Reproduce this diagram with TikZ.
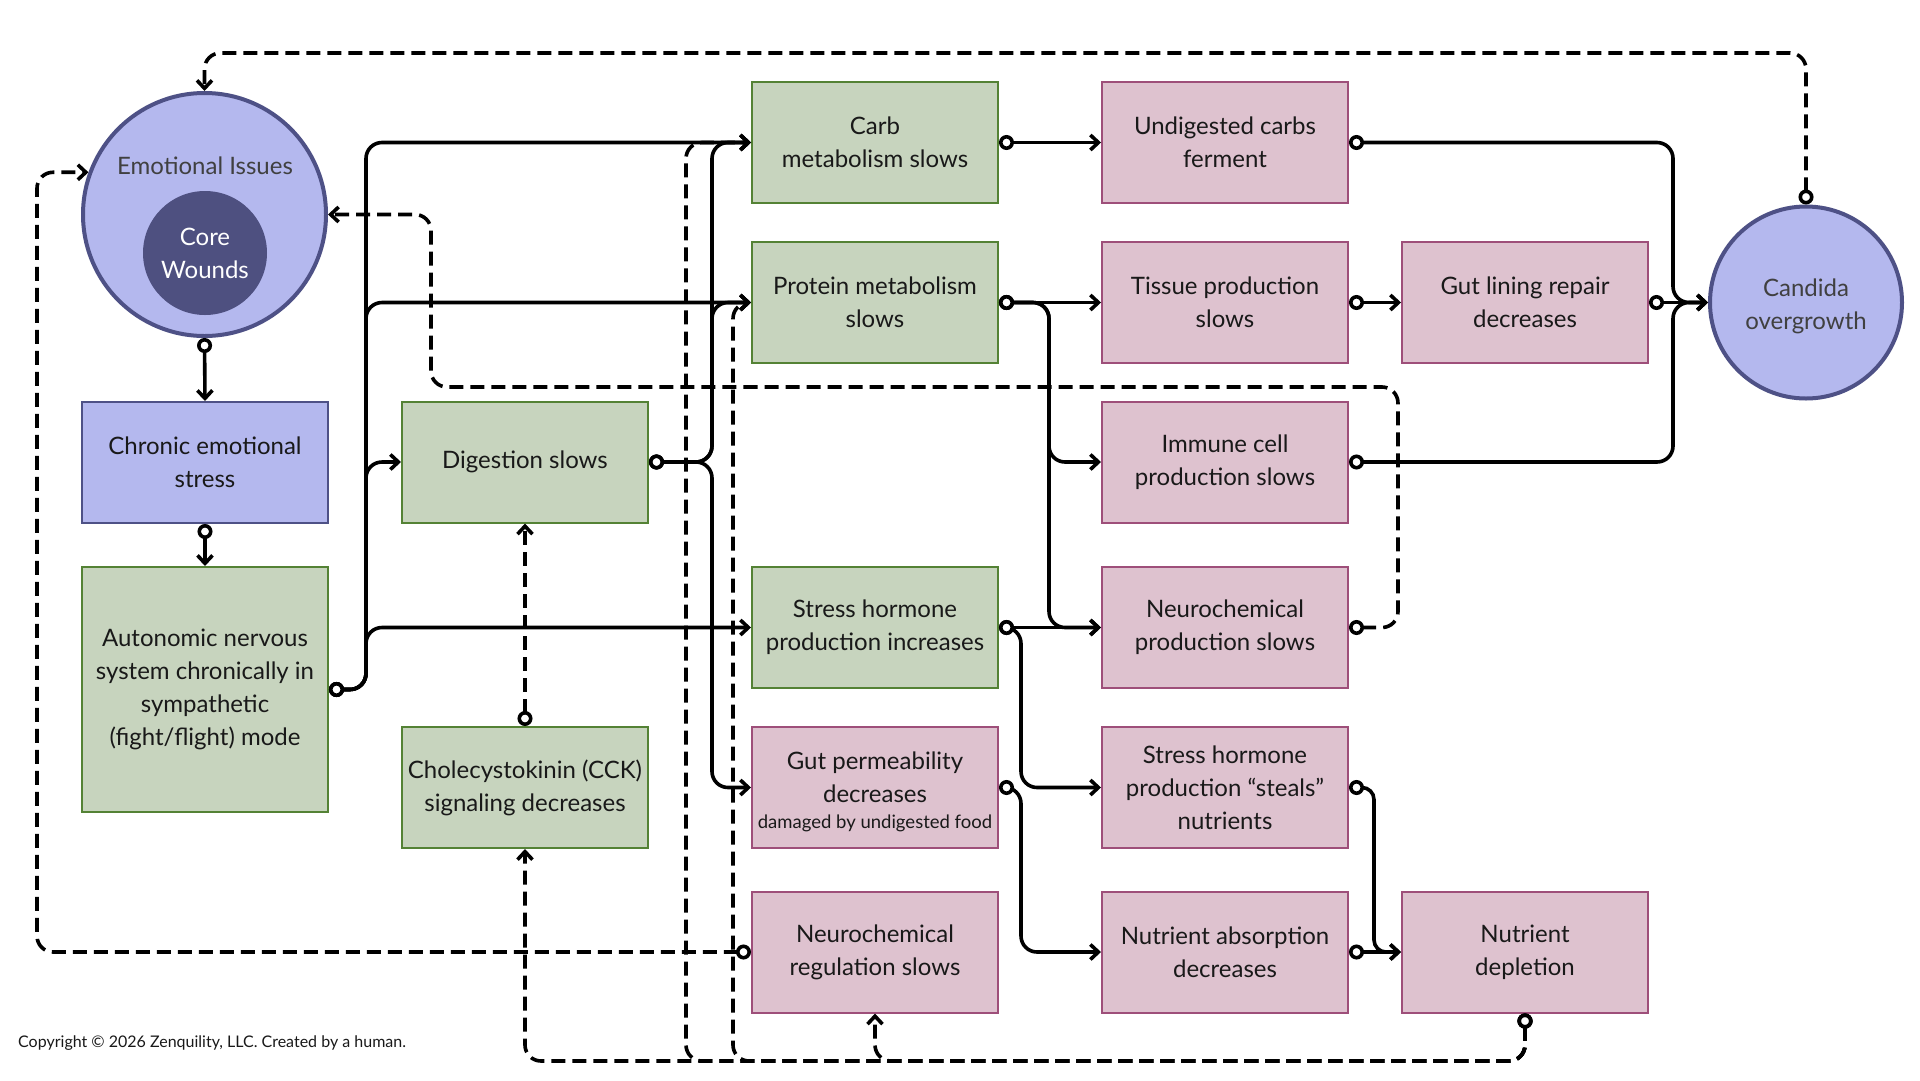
\documentclass[tikz,border=0pt]{standalone}
\usepackage{fontspec}
\setmainfont{Lato}
\usetikzlibrary{arrows.meta,calc}
\definecolor{gfill}{HTML}{C7D4BE}
\definecolor{gdraw}{HTML}{548235}
\definecolor{pfill}{HTML}{DEC2CF}
\definecolor{pdraw}{HTML}{9E4F7A}
\definecolor{bfill}{HTML}{B4B8EE}
\definecolor{bdraw}{HTML}{4E5186}
\definecolor{corefill}{HTML}{4E5080}
\definecolor{txtgrey}{HTML}{404040}
\begin{document}
\begin{tikzpicture}[x=1pt,y=-1pt,
  boxbase/.style={rectangle, minimum width=246pt, minimum height=121pt, inner sep=0pt, line width=2pt, align=center, text=black!90, font=\fontsize{24}{33}\selectfont},
  boxG/.style={boxbase, fill=gfill, draw=gdraw},
  boxP/.style={boxbase, fill=pfill, draw=pdraw},
  boxB/.style={boxbase, fill=bfill, draw=bdraw},
  bigcirc/.style={circle, fill=bfill, draw=bdraw, line width=4pt, inner sep=0pt, align=center, text=txtgrey, font=\fontsize{24}{33}\selectfont},
  conn/.style={line width=3.6pt, rounded corners=16pt, {Circle[fill=white,length=15pt]}-{Straight Barb[length=8pt,width=15pt]}},
  dconn/.style={conn, dash pattern=on 14pt off 7pt},
]
\useasboundingbox (0,0) rectangle (1920,1080);
\fill[white] (0,0) rectangle (1920,1080);

% round nodes
\node[bigcirc, minimum size=243pt] (ei) at (204.5,214.5) {};
\node[text=txtgrey, font=\fontsize{24}{33}\selectfont] (eitxt) at (205,166) {Emotional Issues};
\node[circle, fill=corefill, minimum size=124pt, inner sep=0pt, text=white, align=center, font=\fontsize{24}{33}\selectfont] (core) at (205,253) {Core\\Wounds};
\node[bigcirc, minimum size=192pt] (cand) at (1806,302.5) {\rule{0pt}{26pt}Candida\\overgrowth};

% boxes
\node[boxB] (ces) at (205,462.5) {Chronic emotional\\stress};
\node[boxG, minimum height=245pt] (auto) at (205,689.5) {Autonomic nervous\\system chronically in\\sympathetic\\(fight/flight) mode};
\node[boxG] (dig) at (525,462) {Digestion slows};
\node[boxG] (cck) at (525,787.5) {Cholecystokinin (CCK)\\signaling decreases};
\node[boxG] (carb) at (875,142.5) {Carb\\metabolism slows};
\node[boxG] (prot) at (875,302.5) {Protein metabolism\\slows};
\node[boxG] (shi) at (875,627.5) {Stress hormone\\production increases};
\node[boxP] (gp) at (875,787.5) {\rule{0pt}{26pt}Gut permeability\\decreases\\[-7pt]{\fontsize{18.5}{22}\selectfont damaged by undigested food}};
\node[boxP] (nrs) at (875,952) {Neurochemical\\regulation slows};
\node[boxP] (und) at (1225,142.5) {Undigested carbs\\ferment};
\node[boxP] (tis) at (1225,302.5) {Tissue production\\slows};
\node[boxP] (imm) at (1225,462) {Immune cell\\production slows};
\node[boxP] (nps) at (1225,627.5) {Neurochemical\\production slows};
\node[boxP] (steal) at (1225,787.5) {Stress hormone\\production “steals”\\nutrients};
\node[boxP] (nab) at (1225,952) {Nutrient absorption\\decreases};
\node[boxP] (gl) at (1525,302.5) {Gut lining repair\\decreases};
\node[boxP] (dep) at (1525,952) {Nutrient\\depletion};

\node[anchor=west, text=black!90, font=\fontsize{16}{19}\selectfont, inner sep=0pt] (copy) at (18,1043) {Copyright © 2026 Zenquility, LLC. Created by a human.};

% helper coordinates
\coordinate (xa) at (366,0);
\coordinate (xd) at (712,0);
\coordinate (xp) at (1049,0);
\coordinate (xs) at (1021,0);
\coordinate (xn) at (1374,0);
\coordinate (xc) at (1673,0);
\coordinate (xq) at (1398,0);
\coordinate (xr) at (431,0);
\coordinate (xl) at (37,0);
\coordinate (xcb) at (686,0);
\coordinate (xpb) at (733,0);
\coordinate (yt) at (0,53);
\coordinate (yd) at (0,387);
\coordinate (yb) at (0,1061);

% solid connectors
\draw[conn] (ei.south) -- (ces.north);
\draw[conn] (ces.south) -- (auto.north);
\draw[conn] (auto.east) -| (xa |- carb.west) -- (carb.west);
\draw[conn] (auto.east) -| (xa |- prot.west) -- (prot.west);
\draw[conn] (auto.east) -| (xa |- dig.west) -- (dig.west);
\draw[conn] (auto.east) -| (xa |- shi.west) -- (shi.west);
\draw[conn] (dig.east) -| (xd |- carb.west) -- (carb.west);
\draw[conn] (dig.east) -| (xd |- prot.west) -- (prot.west);
\draw[conn] (dig.east) -| (xd |- gp.west) -- (gp.west);
\draw[conn] (carb.east) -- (und.west);
\draw[conn] (prot.east) -- (tis.west);
\draw[conn] (prot.east) -| (xp |- imm.west) -- (imm.west);
\draw[conn] (prot.east) -| (xp |- nps.west) -- (nps.west);
\draw[conn] (shi.east) -- (nps.west);
\draw[conn] (shi.east) -| (xs |- steal.west) -- (steal.west);
\draw[conn] (gp.east) -| (xs |- nab.west) -- (nab.west);
\draw[conn, rounded corners=12pt] (steal.east) -| (xn |- dep.west) -- (dep.west);
\draw[conn] (nab.east) -- (dep.west);
\draw[conn] (tis.east) -- (gl.west);
\draw[conn] (gl.east) -- (cand.west);
\draw[conn] (und.east) -| (xc |- cand.west) -- (cand.west);
\draw[conn] (imm.east) -| (xc |- cand.west) -- (cand.west);

% dashed connectors
\draw[dconn] (cand.north) -- (cand.north |- yt) -| (ei.north);
\draw[dconn] (nps.east) -| (xq |- yd) -| (xr |- ei.east) -- (ei.east);
\draw[dconn] (nrs.west) -| (xl |- ei.160) -- (ei.160);
\draw[dconn] (dep.south) -- (dep.south |- yb) -| (nrs.south);
\draw[dconn] (dep.south) -- (dep.south |- yb) -| (cck.south);
\draw[dconn] (dep.south) -- (dep.south |- yb) -| (xcb |- carb.west) -- (carb.west);
\draw[dconn] (dep.south) -- (dep.south |- yb) -| (xpb |- prot.west) -- (prot.west);
\draw[dconn] (cck.north) -- (dig.south);
\end{tikzpicture}
\end{document}
